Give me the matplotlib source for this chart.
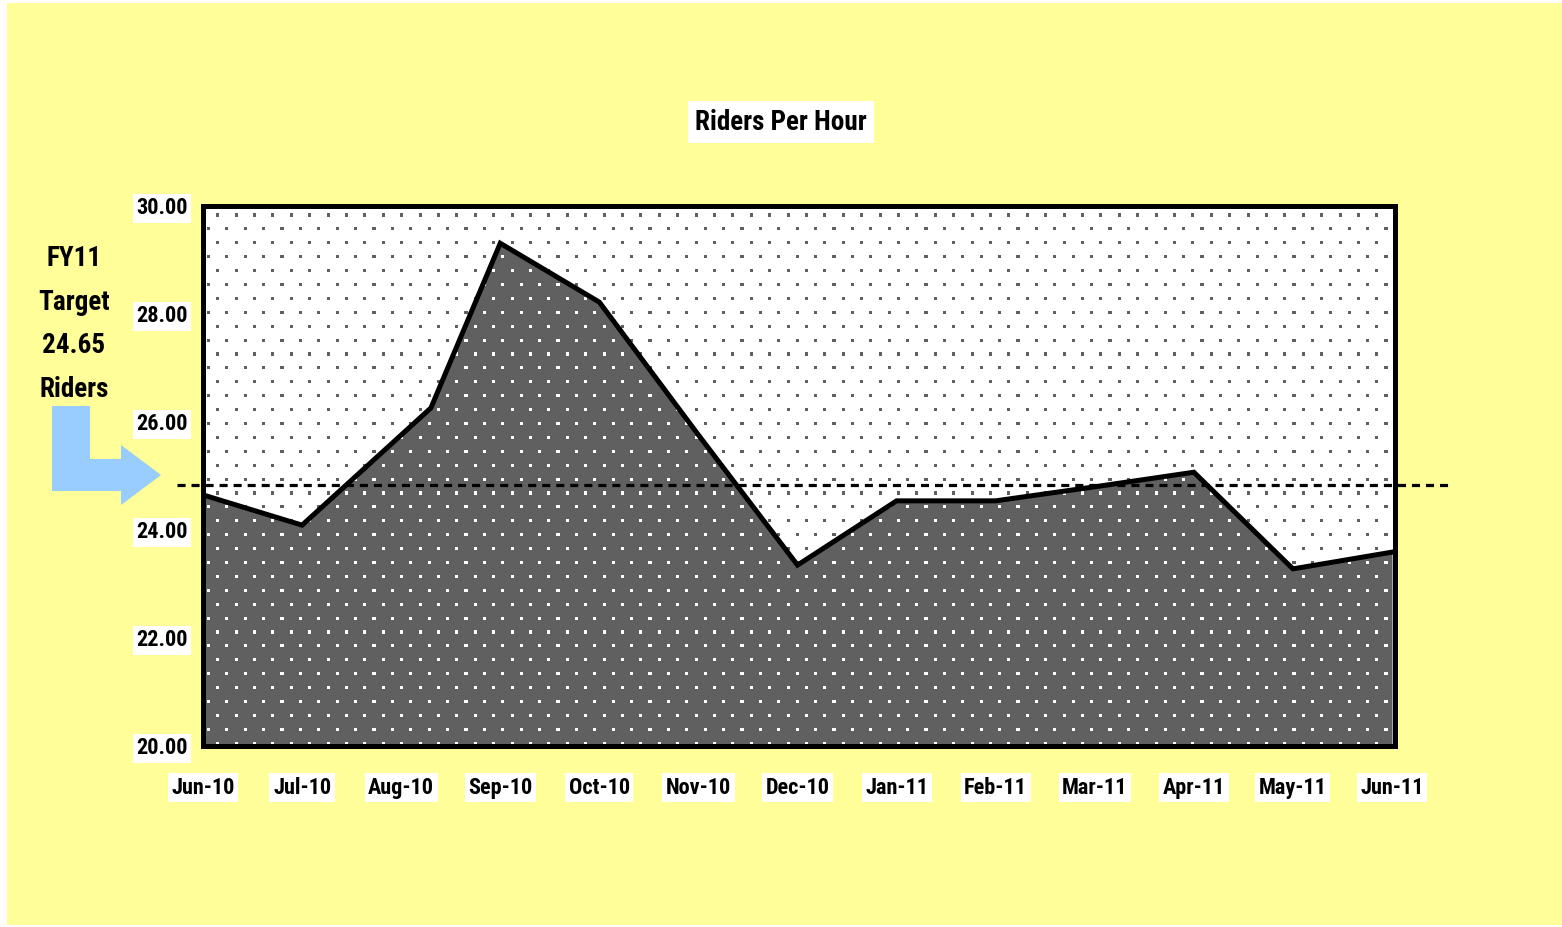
import numpy as np
import matplotlib
matplotlib.use("Agg")
import matplotlib.pyplot as plt
from matplotlib.patches import Polygon, Rectangle

# Monthly riders per hour
months = ["Jun-10", "Jul-10", "Aug-10", "Sep-10", "Oct-10", "Nov-10", "Dec-10",
          "Jan-11", "Feb-11", "Mar-11", "Apr-11", "May-11", "Jun-11"]
month_pos = [0, 1, 2.3, 3, 4, 5, 6, 7, 8, 9, 10, 11, 12]
riders = [24.65, 24.09, 26.26, 29.31, 28.22, 25.76, 23.35,
          24.54, 24.54, 24.80, 25.07, 23.28, 23.59]
target_line = 24.83
target_text = "FY11\nTarget\n24.65\nRiders"
y_ticks = [20, 22, 24, 26, 28, 30]

W, H = 1562, 927
plt.rcParams["font.family"] = ["Liberation Sans Narrow", "Arial Narrow", "Roboto Condensed",
                               "Archivo Narrow", "PT Sans Narrow", "Liberation Sans"]
plt.rcParams["font.weight"] = "bold"
plt.rcParams["lines.scale_dashes"] = False

fig = plt.figure(figsize=(W / 100, H / 100), dpi=100, facecolor="white")


def fx(px):
    return px / W


def fy(py):
    return 1 - py / H


# yellow page background
fig.patches.append(Rectangle((fx(7), fy(925)), fx(1562 - 7), (925 - 3) / H,
                             transform=fig.transFigure, facecolor="#FFFE99",
                             edgecolor="none", zorder=-5))

ax = fig.add_axes([fx(203), fy(746), fx(1395 - 203), (746 - 206) / H])
ax.set_zorder(2)
ax.set_xlim(0, 12.03)
ax.set_ylim(20, 30)
ax.set_facecolor("white")

x = np.array(month_pos, dtype=float)
y = np.array(riders)
ax.fill_between(x, 20, y, color="#606060", linewidth=0, zorder=1)

# dotted texture: staggered grid, grey on white, white on dark grey
px_x = (1392 - 203) / 12.0
px_y = 54.0
dx, dy = 18.4 / px_x, 13.9 / px_y
gx, gy, gc = [], [], []
for i, yy in enumerate(np.arange(29.833, 20.0, -dy)):
    start = 0.148 if i % 2 == 0 else 0.054
    for xx in np.arange(start, 12.03, dx):
        gx.append(xx)
        gy.append(yy)
        gc.append("white" if yy < np.interp(xx, x, y) else "#606060")
ax.scatter(gx, gy, s=5, marker="s", c=gc, linewidths=0, zorder=2)

ax.plot([-0.265, 12.6], [target_line, target_line], color="black", lw=2.3,
        dashes=(5.8, 4.3), clip_on=False, zorder=3)
ax.plot(x, y, color="black", lw=3.6, solid_joinstyle="miter", zorder=4)

for s in ax.spines.values():
    s.set_linewidth(3.6)
    s.set_zorder(5)

ax.set_xticks(range(13))
ax.set_xticklabels(months)
ax.set_yticks(y_ticks)
ax.set_yticklabels([f"{v:.2f}" for v in y_ticks])
ax.tick_params(axis="both", length=0, labelsize=16)
ax.tick_params(axis="y", pad=11)
ax.tick_params(axis="x", pad=22)
for lab in ax.get_xticklabels() + ax.get_yticklabels():
    lab.set_fontweight("bold")
    lab.set_bbox(dict(facecolor="white", edgecolor="none", pad=2.5))

fig.text(fx(781), fy(122), "Riders Per Hour", ha="center", va="center",
         fontsize=19.5, fontweight="bold",
         bbox=dict(facecolor="white", edgecolor="none", pad=5))

fig.text(fx(74), fy(324), target_text, ha="center", va="center",
         fontsize=19.5, fontweight="bold", linespacing=1.78)

# light blue bent arrow pointing at the target line
arrow_px = [(52, 406), (90, 406), (90, 459), (121, 459), (121, 445),
            (161, 475), (121, 505), (121, 491), (52, 491)]
fig.patches.append(Polygon([(fx(a), fy(b)) for a, b in arrow_px], closed=True,
                           transform=fig.transFigure, facecolor="#99CCFF",
                           edgecolor="none", zorder=1))

fig.savefig("out.png", dpi=100, facecolor=fig.get_facecolor())
